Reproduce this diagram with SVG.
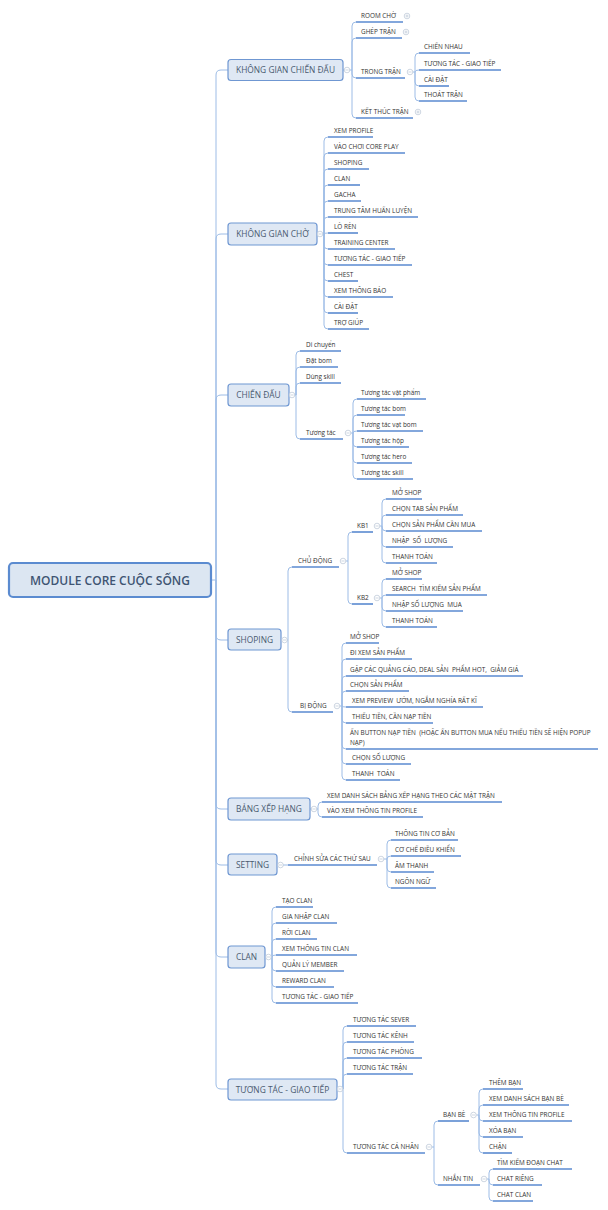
<svg xmlns="http://www.w3.org/2000/svg" xmlns:xlink="http://www.w3.org/1999/xlink" width="608" height="1210" viewBox="0 0 608 1210">
<style>
.ln{fill:none;stroke:#9dbce6;stroke-width:1}
.ul{fill:none;stroke:#5a8ad0;stroke-width:1.6}
.t{font-family:"Open Sans","Noto Sans",sans-serif;font-size:6.4px;fill:#333;white-space:pre}
.b1 rect{fill:#dfe8f4;stroke:#6f97d2;stroke-width:1.2}
.b1 text{font-family:"Open Sans","Noto Sans",sans-serif;font-size:8.4px;fill:#4a5a70;text-anchor:middle}
.tg circle{fill:#fff;stroke:#b8c4d4;stroke-width:0.7}
.tg path{stroke:#b8c4d4;stroke-width:0.7;fill:none}
</style>
<defs>
<g id="mi" class="tg"><circle r="2.8"/><path d="M-1.6 0H1.6"/></g>
<g id="pl" class="tg"><circle r="2.8"/><path d="M-1.6 0H1.6M0 -1.6V1.6"/></g>
</defs>
<rect width="608" height="1210" fill="#fff"/>

<g id="connectors">
<path class="ln" d="M211 580H216"/>
<path class="ln" d="M216 580V75Q216 70 221 70H228"/>
<path class="ln" d="M216 580V239Q216 234 221 234H228"/>
<path class="ln" d="M216 580V400Q216 395 221 395H228"/>
<path class="ln" d="M216 580V635Q216 640 221 640H228"/>
<path class="ln" d="M216 580V804Q216 809 221 809H228"/>
<path class="ln" d="M216 580V860Q216 865 221 865H228"/>
<path class="ln" d="M216 580V952Q216 957 221 957H228"/>
<path class="ln" d="M216 580V1084Q216 1089 221 1089H228"/>
<!-- KGCD -->
<path class="ln" d="M343 70H352M352 70V26Q352 22 356 22M352 70V42Q352 38 356 38M352 70V74Q352 78 356 78M352 70V114Q352 118 356 118"/>
<!-- TRONG TRAN -->
<path class="ln" d="M413 72H415M415 72V57Q415 53 419 53M415 72Q415 70 419 70M415 72V82Q415 86 419 86M415 72V97Q415 101 419 101"/>
<!-- KGC -->
<path class="ln" d="M317 234H324M324 234V141Q324 137 328 137M324 234V157Q324 153 328 153M324 234V173Q324 169 328 169M324 234V189Q324 185 328 185M324 234V205Q324 201 328 201M324 234V221Q324 217 328 217M324 234Q324 233 328 233M324 234V245Q324 249 328 249M324 234V261Q324 265 328 265M324 234V277Q324 281 328 281M324 234V293Q324 297 328 297M324 234V309Q324 313 328 313M324 234V325Q324 329 328 329"/>
<!-- CD -->
<path class="ln" d="M289 395H296M296 395V355Q296 351 300 351M296 395V371Q296 367 300 367M296 395V387Q296 383 300 383M296 395V435Q296 439 300 439"/>
<path class="ln" d="M351 433H353M353 433V403Q353 399 357 399M353 433V419Q353 415 357 415M353 433Q353 431 357 431M353 433V443Q353 447 357 447M353 433V459Q353 463 357 463M353 433V475Q353 479 357 479"/>
<!-- SHOPING -->
<path class="ln" d="M281 640H288M288 640V571Q288 567 292 567M288 640V708Q288 712 292 712"/>
<path class="ln" d="M346 561H348M348 561V536Q348 532 352 532M348 561V600Q348 604 352 604"/>
<path class="ln" d="M380 526H382M382 526V503Q382 499 386 499M382 526V519Q382 515 386 515M382 526V527Q382 531 386 531M382 526V543Q382 547 386 547M382 526V559Q382 563 386 563"/>
<path class="ln" d="M380 598H382M382 598V583Q382 579 386 579M382 598Q382 595 386 595M382 598V607Q382 611 386 611M382 598V623Q382 627 386 627"/>
<path class="ln" d="M340 706H342M342 706V647Q342 643 346 643M342 706V663Q342 659 346 659M342 706V680Q342 676 346 676M342 706V695Q342 691 346 691M342 706Q342 707 346 707M342 706V719Q342 723 346 723M342 706V745Q342 749 346 749M342 706V760Q342 764 346 764M342 706V776Q342 780 346 780"/>
<!-- BXH -->
<path class="ln" d="M310 809H318M318 809V806Q318 802 322 802M318 809V813Q318 817 322 817"/>
<!-- SETTING -->
<path class="ln" d="M277 865H288"/>
<path class="ln" d="M384 859H387M387 859V844Q387 840 391 840M387 859Q387 856 391 856M387 859V868Q387 872 391 872M387 859V884Q387 888 391 888"/>
<!-- CLAN -->
<path class="ln" d="M265 957H272M272 957V911Q272 907 276 907M272 957V927Q272 923 276 923M272 957V943Q272 939 276 939M272 957Q272 955 276 955M272 957V967Q272 971 276 971M272 957V983Q272 987 276 987M272 957V999Q272 1003 276 1003"/>
<!-- TTGT -->
<path class="ln" d="M337 1089H343M343 1089V1030Q343 1026 347 1026M343 1089V1046Q343 1042 347 1042M343 1089V1062Q343 1058 347 1058M343 1089V1078Q343 1074 347 1074M343 1089V1149Q343 1153 347 1153"/>
<path class="ln" d="M432 1147H434M434 1147V1125Q434 1121 438 1121M434 1147V1181Q434 1185 438 1185"/>
<path class="ln" d="M476.5 1115H479M479 1115V1093Q479 1089 483 1089M479 1115V1109Q479 1105 483 1105M479 1115V1117Q479 1121 483 1121M479 1115V1133Q479 1137 483 1137M479 1115V1149Q479 1153 483 1153"/>
<path class="ln" d="M487 1179H489M489 1179V1173Q489 1169 493 1169M489 1179V1181Q489 1185 493 1185M489 1179V1197Q489 1201 493 1201"/>
</g>

<g id="root"><rect x="9" y="563" width="202" height="34" rx="4" fill="#dce6f2" stroke="#5b8bd0" stroke-width="2.2"/>
<text x="110" y="584.5" font-family="Open Sans, Noto Sans, sans-serif" font-size="12" font-weight="600" fill="#3f5573" text-anchor="middle">MODULE CORE CUỘC SỐNG</text></g>

<!-- level 1 -->
<g id="kgcd" class="b1"><rect x="228" y="59.5" width="115" height="21" rx="3"/><text x="285.5" y="73">KHÔNG GIAN CHIẾN ĐẤU</text><use href="#mi" x="347" y="70"/></g>
<g id="kgc" class="b1"><rect x="228" y="223" width="89" height="22" rx="3"/><text x="272.5" y="237">KHÔNG GIAN CHỜ</text><use href="#mi" x="320" y="234"/></g>
<g id="cd" class="b1"><rect x="228" y="384" width="61" height="22" rx="3"/><text x="258.5" y="398">CHIẾN ĐẤU</text><use href="#mi" x="292" y="395"/></g>
<g id="shoping" class="b1"><rect x="228" y="629" width="53" height="21" rx="3"/><text x="254.5" y="642.5">SHOPING</text><use href="#mi" x="284.5" y="640"/></g>
<g id="bxh" class="b1"><rect x="228" y="798" width="82" height="22" rx="3"/><text x="269" y="812">BẢNG XẾP HẠNG</text><use href="#mi" x="314" y="809"/></g>
<g id="setting" class="b1"><rect x="228" y="854" width="49" height="21" rx="3"/><text x="252.5" y="867.5">SETTING</text><use href="#mi" x="280.5" y="865"/></g>
<g id="clan" class="b1"><rect x="228" y="946" width="37" height="22" rx="3"/><text x="246.5" y="960">CLAN</text><use href="#mi" x="268.5" y="957"/></g>
<g id="ttgt" class="b1"><rect x="228" y="1079" width="109" height="21" rx="3"/><text x="282.5" y="1092.5">TƯƠNG TÁC - GIAO TIẾP</text><use href="#mi" x="340" y="1089"/></g>

<!-- KGCD children -->
<g id="room"><text class="t" x="361" y="18">ROOM CHỜ</text><path class="ul" d="M356 22H403"/><use href="#pl" x="407" y="16"/></g>
<g id="ghep"><text class="t" x="361" y="34">GHÉP TRẬN</text><path class="ul" d="M356 38H402"/><use href="#pl" x="406" y="32"/></g>
<g id="trongtran"><text class="t" x="361" y="74">TRONG TRẬN</text><path class="ul" d="M356 78H405"/><use href="#mi" x="410" y="72"/></g>
<g id="ketthuc"><text class="t" x="361" y="114">KẾT THÚC TRẬN</text><path class="ul" d="M356 118H413"/><use href="#pl" x="418" y="112"/></g>
<g id="tt1"><text class="t" x="424" y="49">CHIẾN NHAU</text><path class="ul" d="M419 53H470"/></g>
<g id="tt2"><text class="t" x="424" y="66">TƯƠNG TÁC - GIAO TIẾP</text><path class="ul" d="M419 70H501"/></g>
<g id="tt3"><text class="t" x="424" y="82">CÀI ĐẶT</text><path class="ul" d="M419 86H449"/></g>
<g id="tt4"><text class="t" x="424" y="97">THOÁT TRẬN</text><path class="ul" d="M419 101H467"/></g>

<!-- KGC children -->
<g id="kgc1"><text class="t" x="334" y="133">XEM PROFILE</text><path class="ul" d="M328 137H373"/></g>
<g id="kgc2"><text class="t" x="334" y="149">VÀO CHƠI CORE PLAY</text><path class="ul" d="M328 153H405"/></g>
<g id="kgc3"><text class="t" x="334" y="165">SHOPING</text><path class="ul" d="M328 169H369"/></g>
<g id="kgc4"><text class="t" x="334" y="181">CLAN</text><path class="ul" d="M328 185H360"/></g>
<g id="kgc5"><text class="t" x="334" y="197">GACHA</text><path class="ul" d="M328 201H361"/></g>
<g id="kgc6"><text class="t" x="334" y="213">TRUNG TÂM HUẤN LUYỆN</text><path class="ul" d="M328 217H418"/></g>
<g id="kgc7"><text class="t" x="334" y="229">LÒ RÈN</text><path class="ul" d="M328 233H358"/></g>
<g id="kgc8"><text class="t" x="334" y="245">TRAINING CENTER</text><path class="ul" d="M328 249H395"/></g>
<g id="kgc9"><text class="t" x="334" y="261">TƯƠNG TÁC - GIAO TIẾP</text><path class="ul" d="M328 265H412"/></g>
<g id="kgc10"><text class="t" x="334" y="277">CHEST</text><path class="ul" d="M328 281H358"/></g>
<g id="kgc11"><text class="t" x="334" y="293">XEM THÔNG BÁO</text><path class="ul" d="M328 297H393"/></g>
<g id="kgc12"><text class="t" x="334" y="309">CÀI ĐẶT</text><path class="ul" d="M328 313H358"/></g>
<g id="kgc13"><text class="t" x="334" y="325">TRỢ GIÚP</text><path class="ul" d="M328 329H369"/></g>

<!-- CD children -->
<g id="cd1"><text class="t" x="306" y="347">Di chuyển</text><path class="ul" d="M300 351H341"/></g>
<g id="cd2"><text class="t" x="306" y="363">Đặt bom</text><path class="ul" d="M300 367H338"/></g>
<g id="cd3"><text class="t" x="306" y="379">Dùng skill</text><path class="ul" d="M300 383H341"/></g>
<g id="cd4"><text class="t" x="306" y="435">Tương tác</text><path class="ul" d="M300 439H343"/><use href="#mi" x="348" y="433"/></g>
<g id="cdt1"><text class="t" x="361" y="395">Tương tác vật phẩm</text><path class="ul" d="M357 399H426"/></g>
<g id="cdt2"><text class="t" x="361" y="411">Tương tác bom</text><path class="ul" d="M357 415H405"/></g>
<g id="cdt3"><text class="t" x="361" y="427">Tương tác vạt bom</text><path class="ul" d="M357 431H423"/></g>
<g id="cdt4"><text class="t" x="361" y="443">Tương tác hộp</text><path class="ul" d="M357 447H409"/></g>
<g id="cdt5"><text class="t" x="361" y="459">Tương tác hero</text><path class="ul" d="M357 463H412"/></g>
<g id="cdt6"><text class="t" x="361" y="475">Tương tác skill</text><path class="ul" d="M357 479H413"/></g>

<!-- SHOPING children -->
<g id="chudong"><text class="t" x="298" y="563">CHỦ ĐỘNG</text><path class="ul" d="M292 567H339"/><use href="#mi" x="343" y="561"/></g>
<g id="bidong"><text class="t" x="300" y="708">BỊ ĐỘNG</text><path class="ul" d="M292 712H333"/><use href="#mi" x="337" y="706"/></g>
<g id="kb1"><text class="t" x="357" y="528">KB1</text><path class="ul" d="M352 532H373"/><use href="#mi" x="377" y="526"/></g>
<g id="kb2"><text class="t" x="357" y="600">KB2</text><path class="ul" d="M352 604H373"/><use href="#mi" x="377" y="598"/></g>
<g id="kb1a"><text class="t" x="392" y="495">MỞ SHOP</text><path class="ul" d="M386 499H422"/></g>
<g id="kb1b"><text class="t" x="392" y="511">CHỌN TAB SẢN PHẨM</text><path class="ul" d="M386 515H463"/></g>
<g id="kb1c"><text class="t" x="392" y="527">CHỌN SẢN PHẨM CẦN MUA</text><path class="ul" d="M386 531H482"/></g>
<g id="kb1d"><text class="t" x="392" y="543">NHẬP  SỐ  LƯỢNG</text><path class="ul" d="M386 547H453"/></g>
<g id="kb1e"><text class="t" x="392" y="559">THANH TOÁN</text><path class="ul" d="M386 563H437"/></g>
<g id="kb2a"><text class="t" x="392" y="575">MỞ SHOP</text><path class="ul" d="M386 579H422"/></g>
<g id="kb2b"><text class="t" x="392" y="591">SEARCH  TÌM KIẾM SẢN PHẨM</text><path class="ul" d="M386 595H487"/></g>
<g id="kb2c"><text class="t" x="392" y="607">NHẬP SỐ LƯỢNG  MUA</text><path class="ul" d="M386 611H463"/></g>
<g id="kb2d"><text class="t" x="392" y="623">THANH TOÁN</text><path class="ul" d="M386 627H437"/></g>
<g id="bd1"><text class="t" x="350" y="639">MỞ SHOP</text><path class="ul" d="M346 643H379"/></g>
<g id="bd2"><text class="t" x="350" y="655">ĐI XEM SẢN PHẨM</text><path class="ul" d="M346 659H412"/></g>
<g id="bd3"><text class="t" x="350" y="672">GẶP CÁC QUẢNG CÁO, DEAL SẢN  PHẨM HOT,  GIẢM GIÁ</text><path class="ul" d="M346 676H523"/></g>
<g id="bd4"><text class="t" x="350" y="687">CHỌN SẢN PHẨM</text><path class="ul" d="M346 691H409"/></g>
<g id="bd5"><text class="t" x="352" y="703">XEM PREVIEW  ƯỚM, NGẮM NGHÍA RẤT KĨ</text><path class="ul" d="M346 707H483"/></g>
<g id="bd6"><text class="t" x="352" y="719">THIẾU TIỀN, CẦN NẠP TIỀN</text><path class="ul" d="M346 723H433"/></g>
<g id="bd7"><text class="t" x="350" y="735.3">ẤN BUTTON NẠP TIỀN  (HOẶC ẤN BUTTON MUA NẾU THIẾU TIỀN SẼ HIỆN POPUP</text><text class="t" x="350" y="744.5">NẠP)</text><path class="ul" d="M346 749H598"/></g>
<g id="bd8"><text class="t" x="352" y="760">CHỌN SỐ LƯỢNG</text><path class="ul" d="M346 764H411"/></g>
<g id="bd9"><text class="t" x="352" y="776">THANH  TOÁN</text><path class="ul" d="M346 780H400"/></g>

<!-- BXH children -->
<g id="bxh1"><text class="t" x="327" y="798">XEM DANH SÁCH BẢNG XẾP HẠNG THEO CÁC MẶT TRẬN</text><path class="ul" d="M322 802H502"/></g>
<g id="bxh2"><text class="t" x="327" y="813">VÀO XEM THÔNG TIN PROFILE</text><path class="ul" d="M322 817H423"/></g>

<!-- SETTING children -->
<g id="chinhsua"><text class="t" x="294" y="861">CHỈNH SỬA CÁC THỨ SAU</text><path class="ul" d="M288 865H377"/><use href="#mi" x="381" y="859"/></g>
<g id="st1"><text class="t" x="395" y="836">THÔNG TIN CƠ BẢN</text><path class="ul" d="M391 840H458"/></g>
<g id="st2"><text class="t" x="395" y="852">CƠ CHẾ ĐIỀU KHIỂN</text><path class="ul" d="M391 856H461"/></g>
<g id="st3"><text class="t" x="395" y="868">ÂM THANH</text><path class="ul" d="M391 872H434"/></g>
<g id="st4"><text class="t" x="395" y="884">NGÔN NGỮ</text><path class="ul" d="M391 888H436"/></g>

<!-- CLAN children -->
<g id="cl1"><text class="t" x="282" y="903">TẠO CLAN</text><path class="ul" d="M276 907H313"/></g>
<g id="cl2"><text class="t" x="282" y="919">GIA NHẬP CLAN</text><path class="ul" d="M276 923H337"/></g>
<g id="cl3"><text class="t" x="282" y="935">RỜI CLAN</text><path class="ul" d="M276 939H317"/></g>
<g id="cl4"><text class="t" x="282" y="951">XEM THÔNG TIN CLAN</text><path class="ul" d="M276 955H357"/></g>
<g id="cl5"><text class="t" x="282" y="967">QUẢN LÝ MEMBER</text><path class="ul" d="M276 971H344"/></g>
<g id="cl6"><text class="t" x="282" y="983">REWARD CLAN</text><path class="ul" d="M276 987H334"/></g>
<g id="cl7"><text class="t" x="282" y="999">TƯƠNG TÁC - GIAO TIẾP</text><path class="ul" d="M276 1003H358"/></g>

<!-- TTGT children -->
<g id="tg1"><text class="t" x="353" y="1022">TƯƠNG TÁC SEVER</text><path class="ul" d="M347 1026H416"/></g>
<g id="tg2"><text class="t" x="353" y="1038">TƯƠNG TÁC KÊNH</text><path class="ul" d="M347 1042H414"/></g>
<g id="tg3"><text class="t" x="353" y="1054">TƯƠNG TÁC PHÒNG</text><path class="ul" d="M347 1058H422"/></g>
<g id="tg4"><text class="t" x="353" y="1070">TƯƠNG TÁC TRẬN</text><path class="ul" d="M347 1074H413"/></g>
<g id="tg5"><text class="t" x="353" y="1149">TƯƠNG TÁC CÁ NHÂN</text><path class="ul" d="M347 1153H425"/><use href="#mi" x="429" y="1147"/></g>
<g id="banbe"><text class="t" x="443" y="1117">BẠN BÈ</text><path class="ul" d="M438 1121H469"/><use href="#mi" x="473.5" y="1115"/></g>
<g id="nhantin"><text class="t" x="443" y="1181">NHẮN TIN</text><path class="ul" d="M438 1185H480"/><use href="#mi" x="484" y="1179"/></g>
<g id="bb1"><text class="t" x="489" y="1085">THÊM BẠN</text><path class="ul" d="M483 1089H523"/></g>
<g id="bb2"><text class="t" x="489" y="1101">XEM DANH SÁCH BẠN BÈ</text><path class="ul" d="M483 1105H569"/></g>
<g id="bb3"><text class="t" x="489" y="1117">XEM THÔNG TIN PROFILE</text><path class="ul" d="M483 1121H572"/></g>
<g id="bb4"><text class="t" x="489" y="1133">XÓA BẠN</text><path class="ul" d="M483 1137H523"/></g>
<g id="bb5"><text class="t" x="489" y="1149">CHẶN</text><path class="ul" d="M483 1153H512"/></g>
<g id="nt1"><text class="t" x="497" y="1165">TÌM KIẾM ĐOẠN CHAT</text><path class="ul" d="M493 1169H572"/></g>
<g id="nt2"><text class="t" x="497" y="1181">CHAT RIÊNG</text><path class="ul" d="M493 1185H542"/></g>
<g id="nt3"><text class="t" x="497" y="1197">CHAT CLAN</text><path class="ul" d="M493 1201H533"/></g>
</svg>
